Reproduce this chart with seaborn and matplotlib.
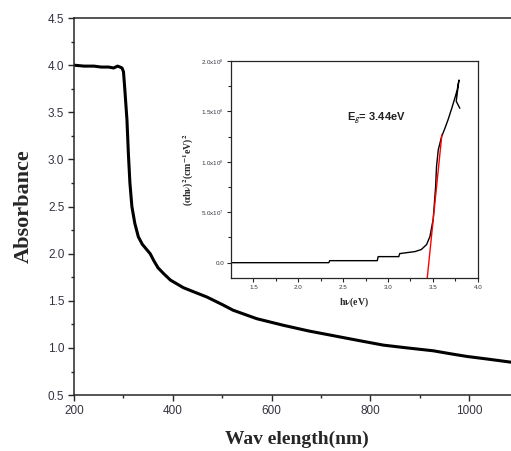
import numpy as np
import pandas as pd
import matplotlib
matplotlib.use("Agg")
import matplotlib.pyplot as plt
from matplotlib.ticker import MultipleLocator, FixedLocator
import seaborn as sns

# --- datos: espectro de absorbancia ---
longitud_onda = [200, 220, 240, 255, 270, 280, 288, 293, 297, 300, 303, 307, 310, 313, 317,
                 323, 330, 338, 346, 354, 362, 370, 381, 395, 408, 421, 440, 469, 500,
                 522, 570, 624, 675, 725, 775, 826, 875, 927, 960, 995, 1040, 1083, 1100]
absorbancia = [4.00, 3.99, 3.99, 3.98, 3.98, 3.97, 3.99, 3.98, 3.97, 3.93, 3.72, 3.42, 3.05,
               2.75, 2.50, 2.32, 2.18, 2.10, 2.05, 2.00, 1.92, 1.85, 1.79, 1.72, 1.68,
               1.64, 1.60, 1.54, 1.46, 1.40, 1.31, 1.24, 1.18, 1.13, 1.08, 1.03, 1.00,
               0.97, 0.94, 0.91, 0.88, 0.85, 0.84]

# --- inset: (alpha h nu)^2 vs h nu ---
energia = [1.25, 1.8, 2.34, 2.35, 2.88, 2.89, 3.12, 3.13, 3.30, 3.37, 3.43, 3.467, 3.503,
           3.53, 3.54, 3.56, 3.597, 3.633, 3.67, 3.71, 3.744, 3.77, 3.79, 3.76, 3.80]
alpha_hv2 = [0.0, 0.0, 0.0, 0.2e7, 0.2e7, 0.6e7, 0.6e7, 0.9e7, 1.1e7, 1.3e7, 1.8e7, 2.6e7, 4.3e7,
             7.5e7, 9.5e7, 1.12e8, 1.25e8, 1.33e8, 1.42e8, 1.53e8, 1.63e8, 1.71e8, 1.81e8,
             1.60e8, 1.53e8]
ajuste_x = [3.437, 3.60]
ajuste_y = [-1.5e7, 1.27e8]

df_abs = pd.DataFrame({'lambda': longitud_onda, 'A': absorbancia})
df_tauc = pd.DataFrame({'E': energia, 'y': alpha_hv2})
df_fit = pd.DataFrame({'E': ajuste_x, 'y': ajuste_y})

sns.set_style("ticks")
plt.rcParams['font.family'] = ['Liberation Sans', 'DejaVu Sans']
plt.rcParams['mathtext.fontset'] = 'stix'
color_tick = '#333340'

fig = plt.figure(figsize=(5.11, 4.51), dpi=100)
ax = fig.add_axes([0.145, 0.124, 0.870, 0.836])
sns.lineplot(data=df_abs, x='lambda', y='A', ax=ax, color='black', lw=2.2, sort=False)
ax.set_xlim(200, 1100)
ax.set_ylim(0.5, 4.5)
ax.xaxis.set_major_locator(MultipleLocator(200))
ax.xaxis.set_minor_locator(MultipleLocator(100))
ax.yaxis.set_major_locator(MultipleLocator(0.5))
ax.yaxis.set_minor_locator(MultipleLocator(0.25))
ax.yaxis.set_major_formatter(matplotlib.ticker.FormatStrFormatter('%.1f'))
ax.tick_params(which='major', direction='out', length=4, width=1, labelsize=8.5,
               labelcolor=color_tick, pad=3)
ax.tick_params(which='minor', direction='out', length=2.5, width=1)
for s in ax.spines.values():
    s.set_linewidth(1.1)
ax.set_xlabel('Wav elength(nm)', family='Liberation Serif', fontweight='bold', fontsize=14,
              labelpad=10)
ax.set_ylabel('Absorbance', family='Liberation Serif', fontweight='bold', fontsize=16,
              labelpad=10)

# inset
axi = fig.add_axes([0.452, 0.384, 0.483, 0.481])
sns.lineplot(data=df_tauc, x='E', y='y', ax=axi, color='black', lw=1.0, sort=False)
sns.lineplot(data=df_fit, x='E', y='y', ax=axi, color='red', lw=1.0)
axi.set_xlim(1.25, 4.0)
axi.set_ylim(-1.5e7, 2.0e8)
axi.xaxis.set_minor_locator(FixedLocator([1.75, 2.25, 2.75, 3.25, 3.75]))
axi.yaxis.set_minor_locator(MultipleLocator(2.5e7))
etiquetas_y = ['0.0', r'5.0x10$^7$', r'1.0x10$^8$', r'1.5x10$^8$', r'2.0x10$^8$']
axi.set_yticks([0, 5e7, 1e8, 1.5e8, 2e8])
axi.set_yticklabels(etiquetas_y)
axi.set_xticks([1.5, 2.0, 2.5, 3.0, 3.5, 4.0])
axi.set_xticklabels(['1.5', '2.0', '2.5', '3.0', '3.5', '4.0'])
axi.tick_params(which='major', direction='out', length=3, width=0.8, labelsize=4.5,
                labelcolor=color_tick, pad=2)
axi.tick_params(which='minor', direction='out', length=2, width=0.8)
for s in axi.spines.values():
    s.set_linewidth(0.9)
axi.set_xlabel(r'h$\mathbf{\nu}$(eV)', family='Liberation Serif', fontweight='bold',
               fontsize=7, labelpad=4)
axi.set_ylabel(r'($\mathbf{\alpha}$h$\mathbf{\nu}$)$^\mathbf{2}$(cm$^\mathbf{-1}$eV)$^\mathbf{2}$',
               family='Liberation Serif', fontweight='bold', fontsize=7, labelpad=4)
axi.text(2.54, 1.42e8, r'E$_\mathsf{g}$= 3.44eV', fontsize=8, fontweight='bold',
         color='#202020', ha='left', va='center')

fig.savefig('out.png', dpi=100)
